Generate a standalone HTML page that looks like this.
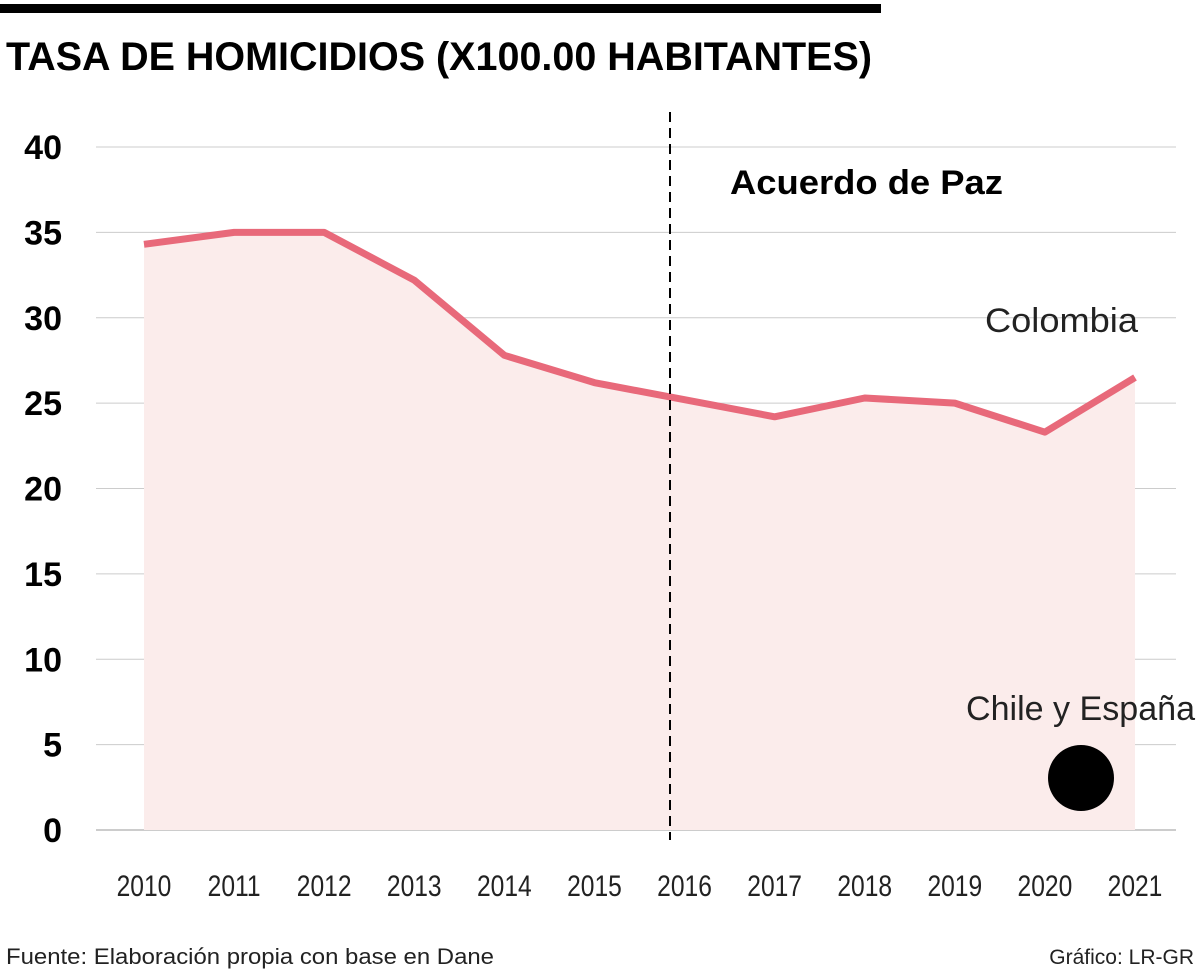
<!DOCTYPE html>
<html><head><meta charset="utf-8">
<style>
body{margin:0;background:#fff;width:1200px;height:972px;overflow:hidden;font-family:"Liberation Sans",sans-serif;}
</style></head>
<body>
<svg width="1200" height="972" viewBox="0 0 1200 972" xmlns="http://www.w3.org/2000/svg">
<rect x="0" y="4" width="881" height="9" fill="#000"/>
<text x="6" y="70" font-family="Liberation Sans, sans-serif" font-weight="bold" font-size="40" textLength="866" lengthAdjust="spacingAndGlyphs">TASA DE HOMICIDIOS (X100.00 HABITANTES)</text>
<g id="grid"></g>
<g id="area"></g>
<g id="yt"></g>
<g id="xt"></g>
<line x1="670" y1="112" x2="670" y2="840" stroke="#000" stroke-width="2" stroke-dasharray="10,6"/>
<text x="730" y="194" font-weight="bold" font-size="34" textLength="273" lengthAdjust="spacingAndGlyphs">Acuerdo de Paz</text>
<text x="985" y="332" font-size="34" fill="#222" textLength="153" lengthAdjust="spacingAndGlyphs">Colombia</text>
<text x="966" y="720" font-size="34" fill="#222" textLength="229" lengthAdjust="spacingAndGlyphs">Chile y España</text>
<circle cx="1081" cy="778" r="33" fill="#000"/>
<text x="6" y="964" font-size="22" fill="#222" textLength="488" lengthAdjust="spacingAndGlyphs">Fuente:  Elaboración propia con base en Dane</text>
<text x="1194" y="964" text-anchor="end" font-size="21" fill="#222">Gráfico: LR-GR</text>
</svg>
<script>
const years=[2010,2011,2012,2013,2014,2015,2016,2017,2018,2019,2020,2021];
const colombia=[34.3,35.0,35.0,32.2,27.8,26.2,25.2,24.2,25.3,25.0,23.3,26.5];
const yTicks=[0,5,10,15,20,25,30,35,40];
const NS="http://www.w3.org/2000/svg";
const x=i=>144+i*(1135-144)/(years.length-1);
const y=v=>830-v*(830-147)/40;
function mk(tag,attrs,parent,txt){const e=document.createElementNS(NS,tag);for(const k in attrs)e.setAttribute(k,attrs[k]);if(txt!==undefined)e.textContent=txt;document.getElementById(parent).appendChild(e);return e;}
yTicks.forEach(t=>{
 const l=mk('line',{x1:96,x2:1176,y1:y(t),y2:y(t),stroke:t===0?'#999':'#ccc','stroke-width':1},'grid');
 
 
 const tx=mk('text',{x:62,y:y(t)+12,'text-anchor':'end','font-size':34,'font-weight':'bold'},'yt',String(t));
 
 
});
years.forEach((yr,i)=>{
 const tx=mk('text',{x:x(i),y:896,'text-anchor':'middle','font-size':30,fill:'#222',transform:`translate(${x(i)},0) scale(0.82,1) translate(${-x(i)},0)`},'xt',String(yr));
 
 
});
const pts=colombia.map((v,i)=>x(i)+','+y(v)).join(' ');
const a=mk('polygon',{points:x(0)+','+y(0)+' '+pts+' '+x(years.length-1)+','+y(0),fill:'#fbeceb'},'area');


const ln=mk('polyline',{points:pts,fill:'none',stroke:'#e8697a','stroke-width':7,'stroke-linejoin':'round'},'area');


</script>
</body></html>
